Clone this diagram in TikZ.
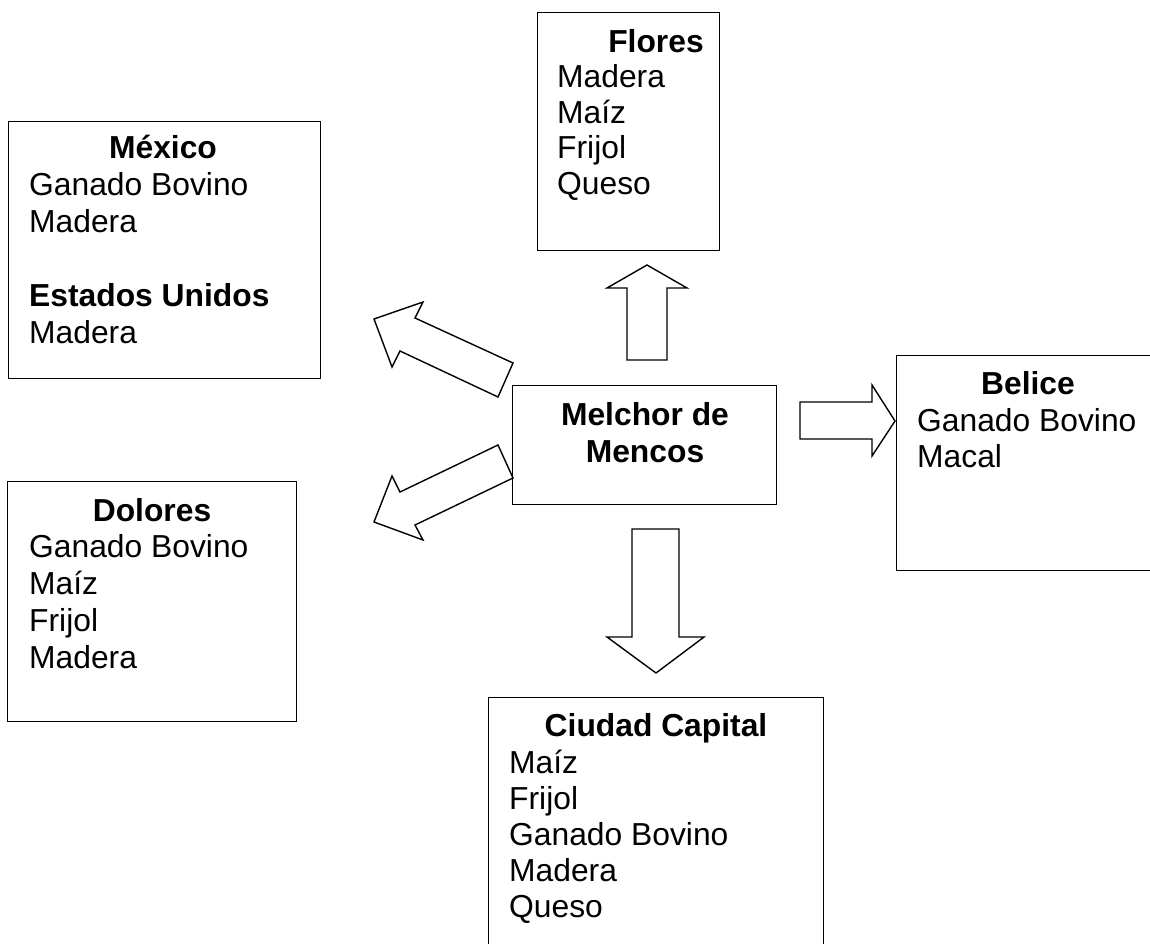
\documentclass[tikz,border=0pt]{standalone}
\usepackage{fontspec}
\setmainfont{Liberation Sans}
\begin{document}
\begin{tikzpicture}[x=1pt,y=-1pt,
  box/.style={draw, line width=1.4pt, rectangle, inner sep=0pt, anchor=north west},
  head/.style={anchor=base, font=\fontsize{31.8}{36.4}\selectfont\bfseries, inner sep=0pt},
  itm/.style={anchor=base west, font=\fontsize{31.8}{36.4}\selectfont, inner sep=0pt},
  blockarrow/.style={draw, line width=1.4pt, fill=white, line join=miter}]
\clip (0,0) rectangle (1150,944);
\fill[white] (0,0) rectangle (1150,944);
% boxes
\node[box, minimum width=182pt, minimum height=238pt] (flores) at (537,12) {};
\node[box, minimum width=312pt, minimum height=257pt] (mexico) at (8,121) {};
\node[box, minimum width=264pt, minimum height=119pt] (melchor) at (512,385) {};
\node[box, minimum width=280pt, minimum height=215pt] (belice) at (896,355) {};
\node[box, minimum width=289pt, minimum height=240pt] (dolores) at (7,481) {};
\node[box, minimum width=335pt, minimum height=270pt] (capital) at (488,697) {};
% headings
\node[head] (floresH) at (656,53) {Flores};
\node[head] (mexicoH) at (163,159) {México};
\node[head, anchor=base west] (eeuuH) at (29,306) {Estados Unidos};
\node[head] (melchorH) at (645,425) {Melchor de};
\node[head] (melchorH2) at (645,462) {Mencos};
\node[head] (beliceH) at (1028,394) {Belice};
\node[head] (doloresH) at (152,521) {Dolores};
\node[head] (capitalH) at (656,736) {Ciudad Capital};
% item lines
\foreach \t [count=\i] in {Madera,Maíz,Frijol,Queso}
  \node[itm] (floresT\i) at (557,{88+35.5*(\i-1)}) {\t};
\foreach \t [count=\i] in {Ganado Bovino,Madera}
  \node[itm] (mexicoT\i) at (29,{195+37*(\i-1)}) {\t};
\node[itm] (eeuuT) at (29,343) {Madera};
\foreach \t [count=\i] in {Ganado Bovino,Macal}
  \node[itm] (beliceT\i) at (917,{431+36*(\i-1)}) {\t};
\foreach \t [count=\i] in {Ganado Bovino,Maíz,Frijol,Madera}
  \node[itm] (doloresT\i) at (29,{557+37*(\i-1)}) {\t};
\foreach \t [count=\i] in {Maíz,Frijol,Ganado Bovino,Madera,Queso}
  \node[itm] (capitalT\i) at (509,{773+36*(\i-1)}) {\t};
% block arrows
\draw[blockarrow] (627,360) -- (627,288) -- (607,288) -- (647,265) -- (687,288) -- (667,288) -- (667,360) -- cycle;
\draw[blockarrow] (800,402) -- (872,402) -- (872,385) -- (895,421) -- (872,456) -- (872,439) -- (800,439) -- cycle;
\draw[blockarrow] (632,529) -- (679,529) -- (679,637) -- (704,637) -- (656,673) -- (607,637) -- (632,637) -- cycle;
\draw[blockarrow] (513,363) -- (415,318) -- (423,302) -- (374,319) -- (392,367) -- (400,351) -- (498,397) -- cycle;
\draw[blockarrow] (498,445) -- (400,492) -- (392,476) -- (374,522) -- (423,540) -- (415,525) -- (513,478) -- cycle;
\end{tikzpicture}
\end{document}
